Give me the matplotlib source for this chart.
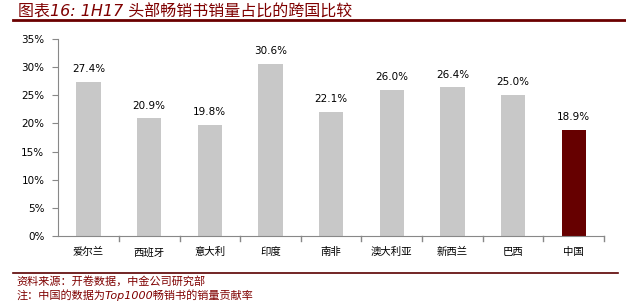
import matplotlib.pyplot as plt
from matplotlib.lines import Line2D

plt.rcParams['font.family'] = ['Noto Sans CJK SC', 'DejaVu Sans']

countries = ["爱尔兰", "西班牙", "意大利", "印度", "南非", "澳大利亚", "新西兰", "巴西", "中国"]
share = [27.4, 20.9, 19.8, 30.6, 22.1, 26.0, 26.4, 25.0, 18.9]
colors = ["#c8c8c8"] * 8 + ["#660000"]

fig = plt.figure(figsize=(6.26, 3.05), dpi=100)
ax = fig.add_axes([0.093, 0.226, 0.872, 0.646])

x = range(len(countries))
ax.bar(x, share, width=0.4, color=colors)
for i, v in enumerate(share):
    ax.text(i, v + 1.4, f"{v:.1f}%", ha="center", va="bottom", fontsize=7.5,
            family="DejaVu Sans")

ax.set_xlim(-0.5, len(countries) - 0.5)
ax.set_ylim(0, 35)
ax.set_yticks(range(0, 36, 5))
ax.set_yticklabels([f"{t}%" for t in range(0, 36, 5)], fontsize=7.5, family="DejaVu Sans")
ax.set_xticks(x)
ax.set_xticklabels(countries, fontsize=7.5)
ax.tick_params(axis="x", length=0, pad=8)
ax.tick_params(axis="y", length=4, color="#888888", direction="out", pad=6)
for b in [i + 0.5 for i in range(len(countries))]:
    ax.plot([b, b], [0, -0.8], color="#888888", lw=1, clip_on=False)
for s in ["top", "right"]:
    ax.spines[s].set_visible(False)
for s in ["left", "bottom"]:
    ax.spines[s].set_color("#888888")

# title and footer
fig.text(0.028, 0.962, "图表16: 1H17 头部畅销书销量占比的跨国比较", color="#7f0000",
         fontsize=11.5, style="italic", ha="left", va="center",
         family=["DejaVu Sans", "Noto Sans CJK SC"])
fig.add_artist(Line2D([0.021, 1.0], [0.934, 0.934], color="#6b0000", lw=2))
fig.add_artist(Line2D([0.021, 0.988], [0.105, 0.105], color="#5a0000", lw=1.2))
fig.text(0.026, 0.079, "资料来源：开卷数据，中金公司研究部", color="#7f0000",
         fontsize=8, style="italic", ha="left", va="center",
         family=["DejaVu Sans", "Noto Sans CJK SC"])
fig.text(0.026, 0.033, "注：中国的数据为Top1000畅销书的销量贡献率", color="#7f0000",
         fontsize=8, style="italic", ha="left", va="center",
         family=["DejaVu Sans", "Noto Sans CJK SC"])

fig.savefig("out.png", dpi=100)
